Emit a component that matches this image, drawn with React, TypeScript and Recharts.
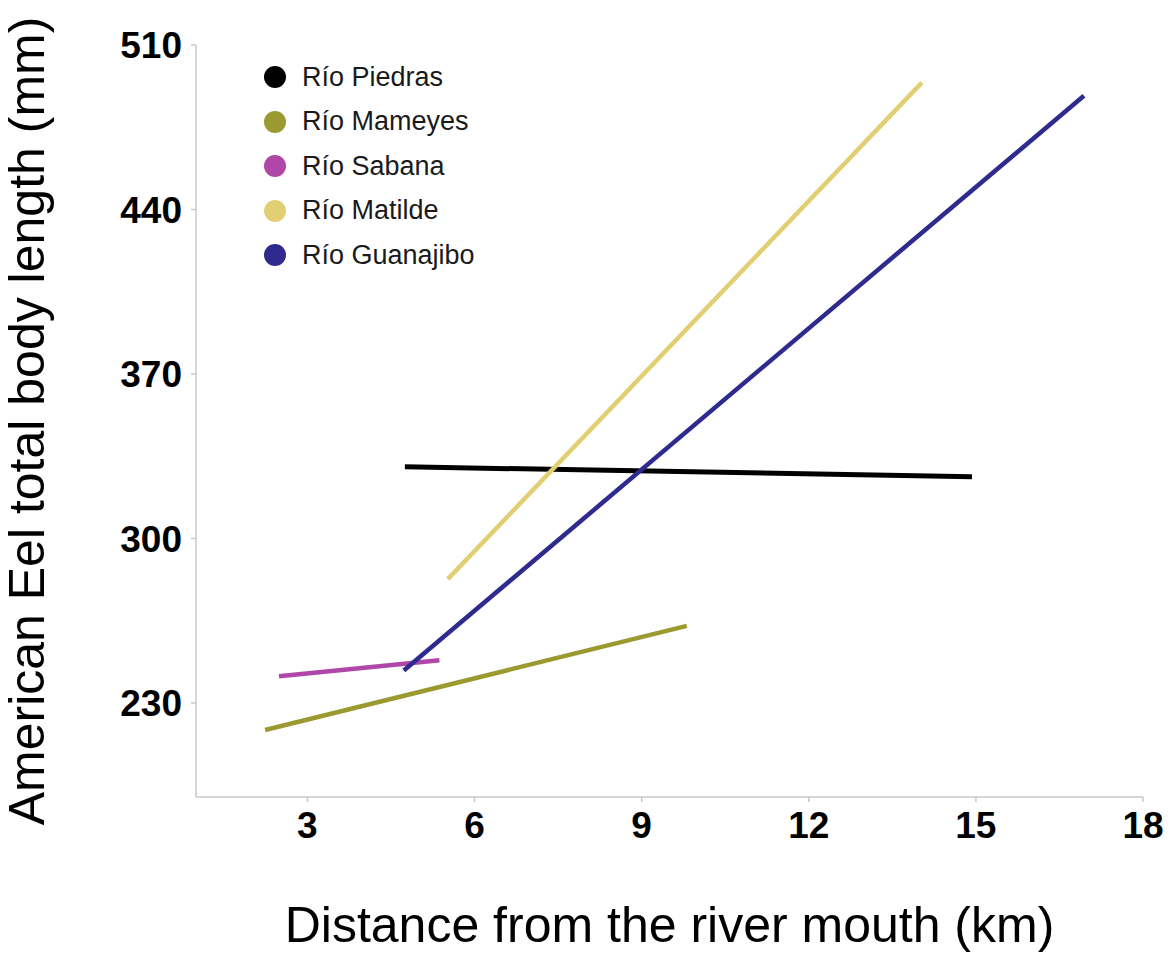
import { Legend, Line, LineChart, XAxis, YAxis } from "recharts"

// fitted length vs. distance, end points of each river's regression line
const RIVERS = ["Río Piedras", "Río Mameyes", "Río Sabana", "Río Matilde", "Río Guanajibo"]
const COLORS = ["#000000", "#9a9a30", "#b046a8", "#e2cf74", "#2f2a8e"]

const piedras = [
  { x: 4.75, y: 330.5 },
  { x: 14.93, y: 326.3 },
]
const mameyes = [
  { x: 2.24, y: 218.5 },
  { x: 9.81, y: 262.8 },
]
const sabana = [
  { x: 2.49, y: 241.4 },
  { x: 5.37, y: 248.2 },
]
const matilde = [
  { x: 5.52, y: 282.7 },
  { x: 14.03, y: 494.0 },
]
const guanajibo = [
  { x: 4.73, y: 243.8 },
  { x: 16.94, y: 488.4 },
]

const SERIES = [piedras, mameyes, sabana, matilde, guanajibo]

const X_TICKS = [3, 6, 9, 12, 15, 18]
const Y_TICKS = [230, 300, 370, 440, 510]

const FONT = "'Liberation Sans', Arial, sans-serif"
const AXIS = "#c8c8c8"

function RiverLegend({ payload }: { payload?: any[] }) {
  const items = [...(payload ?? [])].sort(
    (a, b) => RIVERS.indexOf(a.value) - RIVERS.indexOf(b.value),
  )
  return (
    <div style={{ fontFamily: FONT }}>
      {items.map((item) => (
        <div
          key={item.value}
          style={{ display: "flex", alignItems: "center", height: 44.5 }}
        >
          <span
            style={{
              width: 22,
              height: 22,
              borderRadius: "50%",
              background: item.color,
              display: "inline-block",
              marginRight: 16,
            }}
          />
          <span style={{ fontSize: 27, color: "#1a1a1a" }}>{item.value}</span>
        </div>
      ))}
    </div>
  )
}

export default function App() {
  return (
    <div
      style={{
        position: "absolute",
        left: 0,
        top: 0,
        width: 1174,
        height: 953,
        background: "#fff",
      }}
    >
      <LineChart
        width={1174}
        height={953}
        margin={{ top: 45, right: 31, bottom: 0, left: 0 }}
      >
        <XAxis
          dataKey="x"
          type="number"
          domain={[1, 18]}
          ticks={X_TICKS}
          allowDataOverflow
          height={156}
          stroke={AXIS}
          strokeWidth={1.5}
          tickSize={5}
          tickMargin={10}
          tick={{ fill: "#000", fontSize: 37, fontWeight: "bold", fontFamily: FONT }}
          label={{
            value: "Distance from the river mouth (km)",
            position: "insideBottom",
            offset: 11,
            fill: "#000",
            fontSize: 50,
            fontFamily: FONT,
          }}
        />
        <YAxis
          dataKey="y"
          type="number"
          domain={[190, 510]}
          ticks={Y_TICKS}
          allowDataOverflow
          width={196}
          stroke={AXIS}
          strokeWidth={1.5}
          tickSize={5}
          tickMargin={9}
          tick={{ fill: "#000", fontSize: 37, fontWeight: "bold", fontFamily: FONT }}
          label={{
            value: "American Eel total body length (mm)",
            angle: -90,
            position: "insideLeft",
            offset: 32,
            dx: -6,
            fill: "#000",
            fontSize: 50,
            fontFamily: FONT,
            style: { textAnchor: "middle" },
          }}
        />
        <Legend
          layout="vertical"
          verticalAlign="middle"
          align="center"
          wrapperStyle={{ top: 55, left: 264, width: 260 }}
          content={<RiverLegend />}
        />
        {SERIES.map((data, i) => (
          <Line
            key={RIVERS[i]}
            data={data}
            dataKey="y"
            name={RIVERS[i]}
            stroke={COLORS[i]}
            strokeWidth={i === 0 ? 5 : 4.5}
            dot={false}
            legendType="circle"
            isAnimationActive={false}
          />
        ))}
      </LineChart>
    </div>
  )
}
